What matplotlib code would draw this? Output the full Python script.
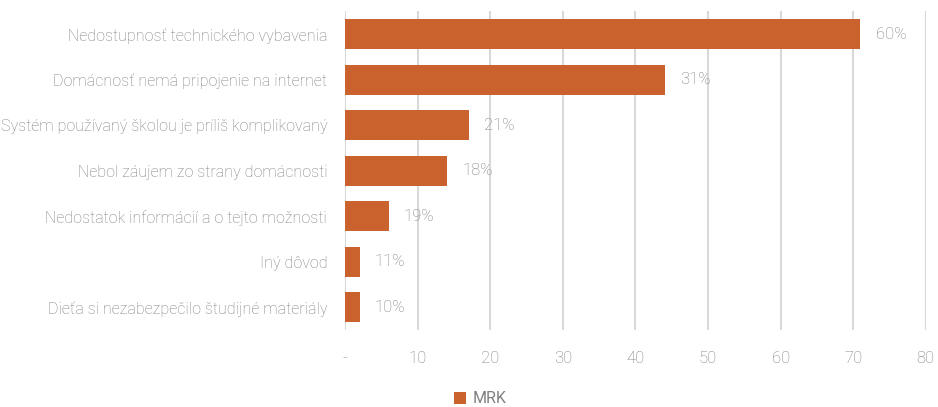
import matplotlib
matplotlib.use('Agg')
from matplotlib import pyplot as plt
from matplotlib.patches import Patch

# data
categories = [
    "Nedostupnosť technického vybavenia",
    "Domácnosť nemá pripojenie na internet",
    "Systém používaný školou je príliš komplikovaný",
    "Nebol záujem zo strany domácnosti",
    "Nedostatok informácií a o tejto možnosti",
    "Iný dôvod",
    "Dieťa si nezabezpečilo študijné materiály",
]
values = [71, 44, 17, 14, 6, 2, 2]
value_labels = ["60%", "31%", "21%", "18%", "19%", "11%", "10%"]
x_ticks = [0, 10, 20, 30, 40, 50, 60, 70, 80]
x_tick_labels = ["-", "10", "20", "30", "40", "50", "60", "70", "80"]
series_name = "MRK"

bar_color = '#C9622D'
text_color = '#7F7F7F'
grid_color = '#D9D9D9'

plt.rcParams['font.family'] = ['Roboto', 'DejaVu Sans']

fig = plt.figure(figsize=(9.38, 4.07), dpi=100)
ax = fig.add_axes([0.368, 0.189, 0.619, 0.783])

y = list(range(len(categories)))
ax.barh(y, values, height=0.66, color=bar_color, zorder=3)

# value labels next to the bars
for yi, v, lab in zip(y, values, value_labels):
    ax.annotate(lab, (v, yi), xytext=(11, 0), textcoords='offset points',
                va='center', ha='left', fontsize=12, color=text_color,
                fontweight='light')

ax.set_ylim(len(categories) - 0.5, -0.5)
ax.set_xlim(0, 80)
ax.set_yticks(y)
ax.set_yticklabels(categories, fontsize=11.5, color=text_color, fontweight='light')
ax.set_xticks(x_ticks)
ax.set_xticklabels(x_tick_labels, fontsize=12, color=text_color, fontweight='light')
ax.tick_params(axis='both', length=0)
ax.tick_params(axis='x', pad=15)
ax.tick_params(axis='y', pad=13)

ax.grid(axis='x', color=grid_color, linewidth=1.5, zorder=0)
for s in ax.spines.values():
    s.set_visible(False)

handle = Patch(facecolor=bar_color, edgecolor='none')
fig.legend([handle], [series_name], loc='center', bbox_to_anchor=(0.512, 0.02),
           frameon=False, fontsize=11.5, labelcolor=text_color,
           handlelength=0.75, handleheight=0.75, handletextpad=0.4)

fig.savefig('out.png', dpi=100)
